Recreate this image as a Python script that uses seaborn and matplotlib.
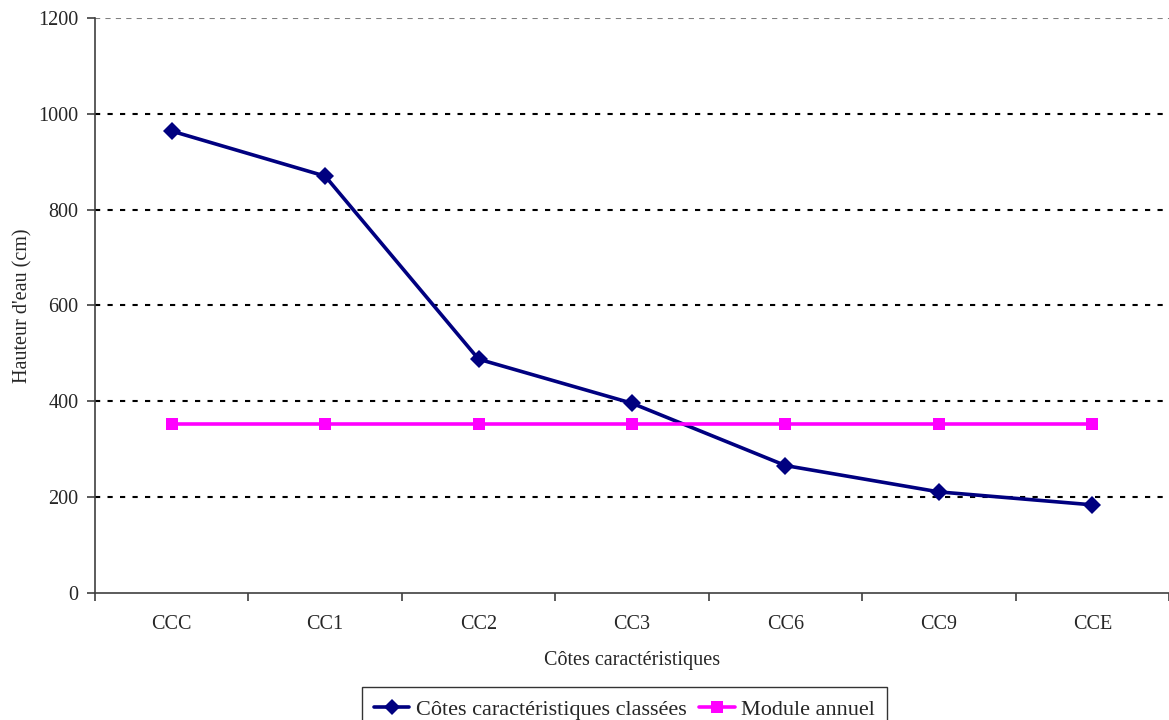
import matplotlib
matplotlib.use("Agg")
import matplotlib.pyplot as plt
import seaborn as sns
import pandas as pd
from matplotlib.lines import Line2D

categories = ["CCC", "CC1", "CC2", "CC3", "CC6", "CC9", "CCE"]
cotes_classees = [964, 870, 488, 396, 266, 211, 184]
module_annuel = [353, 353, 353, 353, 353, 353, 353]

sns.set_theme(style="white")
plt.rcParams["font.family"] = ["Liberation Serif", "DejaVu Serif"]

df = pd.DataFrame({
    "pos": list(range(len(categories))) * 2,
    "val": cotes_classees + module_annuel,
    "serie": ["Côtes caractéristiques classées"] * len(categories)
             + ["Module annuel"] * len(categories),
})

fig = plt.figure(figsize=(11.69, 7.2), dpi=100)
ax = fig.add_axes([95 / 1169, 1 - 593 / 720, (1169 - 95) / 1169, (593 - 18) / 720])

palette = {"Côtes caractéristiques classées": "#000080", "Module annuel": "#FF00FF"}
markers = {"Côtes caractéristiques classées": "D", "Module annuel": "s"}
sns.lineplot(data=df, x="pos", y="val", hue="serie", style="serie",
             palette=palette, markers=markers, dashes=False,
             linewidth=2.6, markersize=9, markeredgewidth=0, ax=ax, legend=False)

ax.set_xlim(-0.5, len(categories) - 0.5)
ax.set_ylim(0, 1200)
ax.set_yticks(range(0, 1201, 200))
ax.set_xticks(range(len(categories)))
ax.set_xticklabels(categories)
ax.set_xticks([i - 0.5 for i in range(len(categories) + 1)], minor=True)

for y in range(200, 1001, 200):
    ax.axhline(y, color="black", linestyle=(0, (2.5, 3.5)), linewidth=1.5, zorder=0)
ax.axhline(1200, color="#808080", linestyle=(0, (2.5, 2.5)), linewidth=1.5, zorder=0)

for side in ["top", "right"]:
    ax.spines[side].set_visible(False)
for side in ["left", "bottom"]:
    ax.spines[side].set_color("#404040")
    ax.spines[side].set_linewidth(1.2)

ax.tick_params(axis="x", which="major", bottom=False, length=0, labelsize=14.5, pad=16)
ax.tick_params(axis="x", which="minor", bottom=True, length=6, width=1.2,
               color="#404040", direction="out")
ax.tick_params(axis="y", length=6, width=1.2, color="#404040", direction="out",
               labelsize=14.5, left=True, pad=6)

ax.set_xlabel("Côtes caractéristiques", fontsize=14.5, labelpad=12)
ax.set_ylabel("Hauteur d'eau (cm)", fontsize=14.5, labelpad=4)

handles = [
    Line2D([], [], color="#000080", marker="D", markersize=8, linewidth=2.6, markeredgewidth=0),
    Line2D([], [], color="#FF00FF", marker="s", markersize=9, linewidth=2.6, markeredgewidth=0),
]
leg = fig.legend(handles, ["Côtes caractéristiques classées", "Module annuel"],
                 loc="upper center", bbox_to_anchor=(624.5 / 1169, 1 - 687 / 720), ncol=2,
                 fontsize=16, frameon=True, fancybox=False, edgecolor="black",
                 handlelength=1.6, handletextpad=0.3, columnspacing=0.55,
                 borderpad=0.55, borderaxespad=0)
leg.get_frame().set_linewidth(1.0)

fig.savefig("out.png", dpi=100, facecolor="white")
